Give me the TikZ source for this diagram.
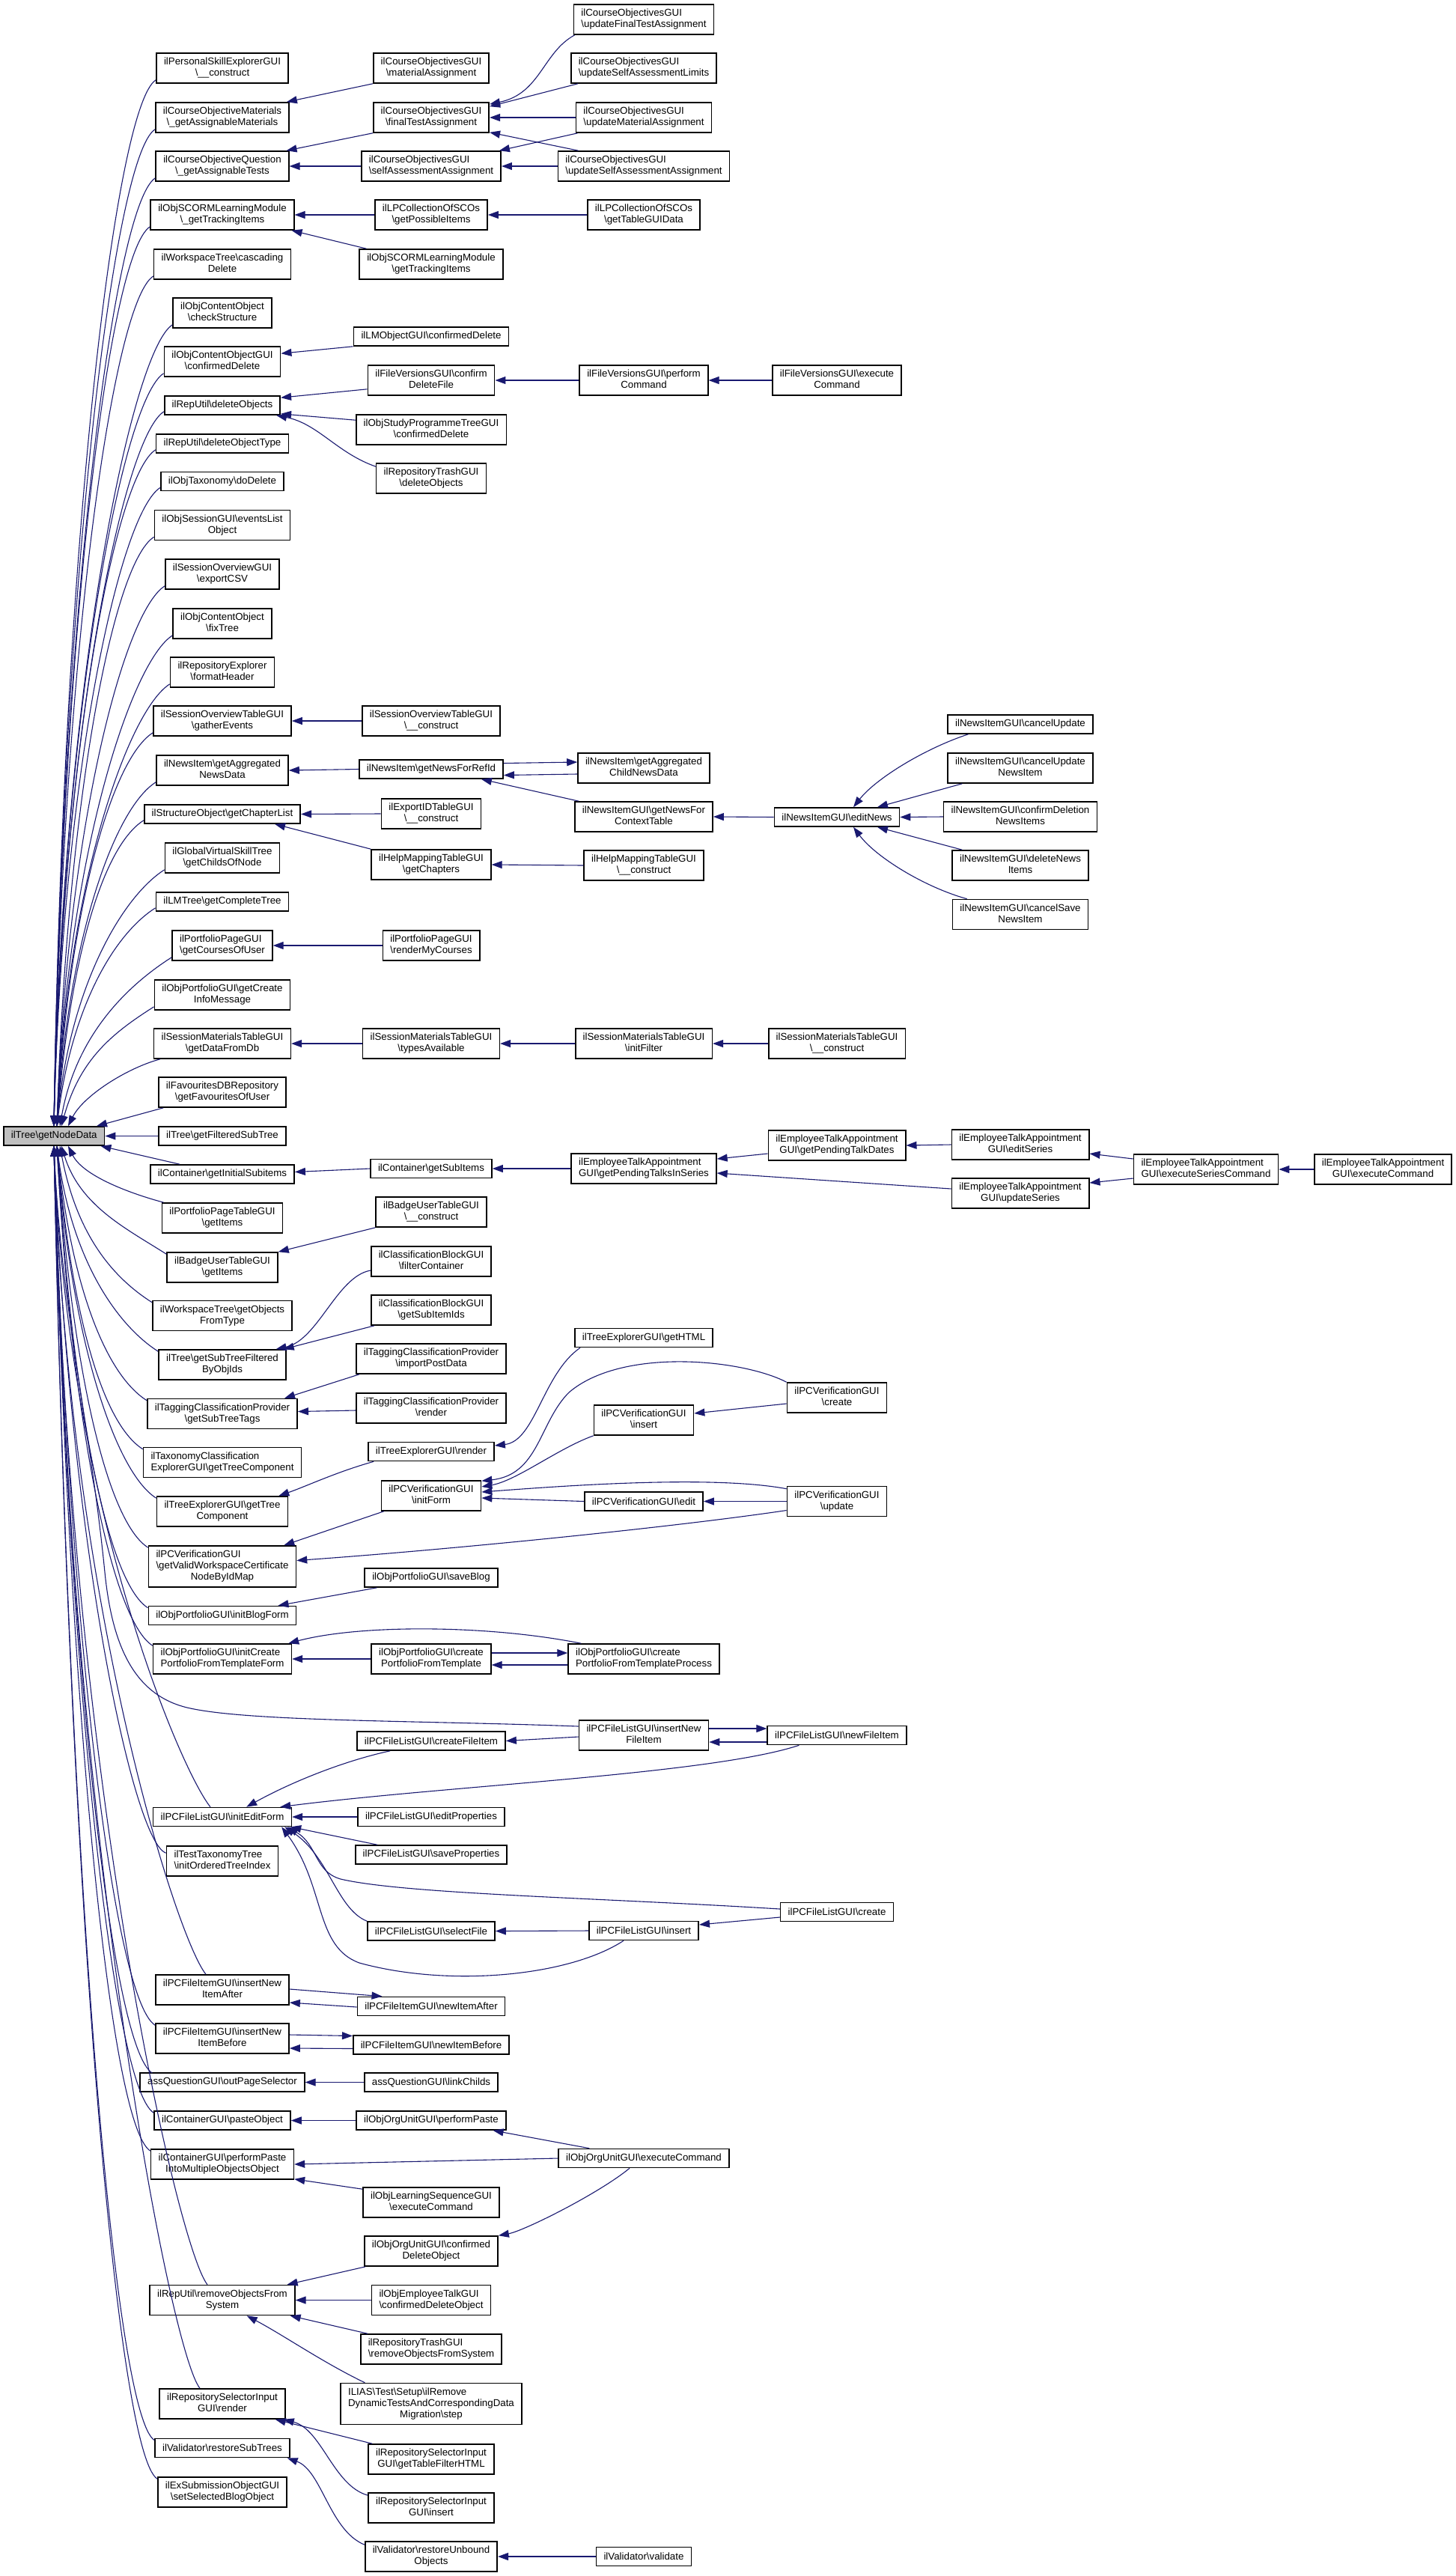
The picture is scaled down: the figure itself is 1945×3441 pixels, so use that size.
\documentclass[tikz,border=0pt]{standalone}
\usepackage{fontspec}
\newfontfamily\dxf{Liberation Sans}
\usetikzlibrary{arrows.meta}
\definecolor{mblue}{RGB}{25,25,112}
\newcommand\BS{\textbackslash}
\newcommand\TwoL[2]{\begin{tabular}{@{}l@{}}#1\\\multicolumn{1}{@{}c@{}}{#2}\end{tabular}}
\newcommand\ThreeL[3]{\begin{tabular}{@{}l@{}}#1\\#2\\\multicolumn{1}{@{}c@{}}{#3}\end{tabular}}
\newcommand\Up[4]{\draw[edg] ([yshift=5pt]#1.south west) .. controls +(-55,-35) and +(#3,#4) .. ([xshift=#2pt]gnd.north west);}
\newcommand\Dn[4]{\draw[edg] ([yshift=-3pt]#1.north west) .. controls +(-55,35) and +(#3,-#4) .. ([xshift=#2pt]gnd.south west);}
\newcommand\DnT[4]{\draw[edg] (#1) .. controls +(-40,50) and +(#3,-#4) .. ([xshift=#2pt]gnd.south west);}
\tikzset{
 fn/.style={draw=black, line width=1.6pt, fill=white, inner xsep=10pt, inner ysep=5pt, minimum height=25pt, font=\dxf\fontsize{13.3}{15}\selectfont},
 root/.style={fn, fill=black!25},
 edg/.style={draw=mblue, line width=1.1pt, -{Triangle[length=14pt,width=10pt]}},
}
\begin{document}
\begin{tikzpicture}[x=1pt,y=1pt]
\useasboundingbox (0,0) rectangle (1945,-3441);
% root
\node[root, anchor=west] (gnd) at (4,-1517.5) {ilTree\BS getNodeData};
% column 1
\node[fn] (n1) at (297,-91) {\TwoL{ilPersonalSkillExplorerGUI}{\BS\_\_construct}};
\node[fn] (n2) at (297,-157) {\TwoL{ilCourseObjectiveMaterials}{\BS\_getAssignableMaterials}};
\node[fn] (n3) at (297,-222) {\TwoL{ilCourseObjectiveQuestion}{\BS\_getAssignableTests}};
\node[fn] (n4) at (297,-287) {\TwoL{ilObjSCORMLearningModule}{\BS\_getTrackingItems}};
\node[fn] (n5) at (297,-353) {\TwoL{ilWorkspaceTree\BS cascading}{Delete}};
\node[fn] (n6) at (297,-418) {\TwoL{ilObjContentObject}{\BS checkStructure}};
\node[fn] (n7) at (297,-483) {\TwoL{ilObjContentObjectGUI}{\BS confirmedDelete}};
\node[fn] (n8) at (297,-541.5) {ilRepUtil\BS deleteObjects};
\node[fn] (n9) at (297,-592.5) {ilRepUtil\BS deleteObjectType};
\node[fn] (n10) at (297,-643) {ilObjTaxonomy\BS doDelete};
\node[fn] (n11) at (297,-701.5) {\TwoL{ilObjSessionGUI\BS eventsList}{Object}};
\node[fn] (n12) at (297,-767) {\TwoL{ilSessionOverviewGUI}{\BS exportCSV}};
\node[fn] (n13) at (297,-833) {\TwoL{ilObjContentObject}{\BS fixTree}};
\node[fn] (n14) at (297,-898) {\TwoL{ilRepositoryExplorer}{\BS formatHeader}};
\node[fn] (n15) at (297,-963) {\TwoL{ilSessionOverviewTableGUI}{\BS gatherEvents}};
\node[fn] (n16) at (297,-1029) {\TwoL{ilNewsItem\BS getAggregated}{NewsData}};
\node[fn] (n17) at (297,-1087.5) {ilStructureObject\BS getChapterList};
\node[fn] (n18) at (297,-1146) {\TwoL{ilGlobalVirtualSkillTree}{\BS getChildsOfNode}};
\node[fn] (n19) at (297,-1204.5) {ilLMTree\BS getCompleteTree};
\node[fn] (n20) at (297,-1263) {\TwoL{ilPortfolioPageGUI}{\BS getCoursesOfUser}};
\node[fn] (n21) at (297,-1329) {\TwoL{ilObjPortfolioGUI\BS getCreate}{InfoMessage}};
\node[fn] (n22) at (297,-1394) {\TwoL{ilSessionMaterialsTableGUI}{\BS getDataFromDb}};
\node[fn] (n23) at (297,-1459) {\TwoL{ilFavouritesDBRepository}{\BS getFavouritesOfUser}};
\node[fn] (n24) at (297,-1517.5) {ilTree\BS getFilteredSubTree};
\node[fn] (n25) at (297,-1568.5) {ilContainer\BS getInitialSubitems};
\node[fn] (n26) at (297,-1627) {\TwoL{ilPortfolioPageTableGUI}{\BS getItems}};
\node[fn] (n27) at (297,-1693) {\TwoL{ilBadgeUserTableGUI}{\BS getItems}};
\node[fn] (n28) at (297,-1757.5) {\TwoL{ilWorkspaceTree\BS getObjects}{FromType}};
\node[fn] (n29) at (297,-1823) {\TwoL{ilTree\BS getSubTreeFiltered}{ByObjIds}};
\node[fn] (n30) at (297,-1888.5) {\TwoL{ilTaggingClassificationProvider}{\BS getSubTreeTags}};
\node[fn] (n31) at (297,-1953.5) {\TwoL{ilTaxonomyClassification}{ExplorerGUI\BS getTreeComponent}};
\node[fn] (n32) at (297,-2019) {\TwoL{ilTreeExplorerGUI\BS getTree}{Component}};
\node[fn] (n33) at (297,-2092.5) {\ThreeL{ilPCVerificationGUI}{\BS getValidWorkspaceCertificate}{NodeByIdMap}};
\node[fn] (n34) at (297,-2158) {ilObjPortfolioGUI\BS initBlogForm};
\node[fn] (n35) at (297,-2216) {\TwoL{ilObjPortfolioGUI\BS initCreate}{PortfolioFromTemplateForm}};
\node[fn] (n36) at (297,-2427) {ilPCFileListGUI\BS initEditForm};
\node[fn] (n37) at (297,-2486) {\TwoL{ilTestTaxonomyTree}{\BS initOrderedTreeIndex}};
\node[fn] (n38) at (297,-2658) {\TwoL{ilPCFileItemGUI\BS insertNew}{ItemAfter}};
\node[fn] (n39) at (297,-2723) {\TwoL{ilPCFileItemGUI\BS insertNew}{ItemBefore}};
\node[fn] (n40) at (297,-2781.5) {assQuestionGUI\BS outPageSelector};
\node[fn] (n41) at (297,-2832.5) {ilContainerGUI\BS pasteObject};
\node[fn] (n42) at (297,-2891) {\TwoL{ilContainerGUI\BS performPaste}{IntoMultipleObjectsObject}};
\node[fn] (n43) at (297,-3072.5) {\TwoL{ilRepUtil\BS removeObjectsFrom}{System}};
\node[fn] (n44) at (297,-3211) {\TwoL{ilRepositorySelectorInput}{GUI\BS render}};
\node[fn] (n45) at (297,-3270) {ilValidator\BS restoreSubTrees};
\node[fn] (n46) at (297,-3329) {\TwoL{ilExSubmissionObjectGUI}{\BS setSelectedBlogObject}};
% column 2
\node[fn] (m1) at (576,-91) {\TwoL{ilCourseObjectivesGUI}{\BS materialAssignment}};
\node[fn] (m2) at (576,-157) {\TwoL{ilCourseObjectivesGUI}{\BS finalTestAssignment}};
\node[fn] (m3) at (576,-222) {\TwoL{ilCourseObjectivesGUI}{\BS selfAssessmentAssignment}};
\node[fn] (m4) at (576,-287) {\TwoL{ilLPCollectionOfSCOs}{\BS getPossibleItems}};
\node[fn] (m5) at (576,-353) {\TwoL{ilObjSCORMLearningModule}{\BS getTrackingItems}};
\node[fn] (m6) at (576,-449.5) {ilLMObjectGUI\BS confirmedDelete};
\node[fn] (m7) at (576,-508) {\TwoL{ilFileVersionsGUI\BS confirm}{DeleteFile}};
\node[fn] (m8) at (576,-574) {\TwoL{ilObjStudyProgrammeTreeGUI}{\BS confirmedDelete}};
\node[fn] (m9) at (576,-639) {\TwoL{ilRepositoryTrashGUI}{\BS deleteObjects}};
\node[fn] (m10) at (576,-963) {\TwoL{ilSessionOverviewTableGUI}{\BS\_\_construct}};
\node[fn] (m11) at (576,-1027.5) {ilNewsItem\BS getNewsForRefId};
\node[fn] (m12) at (576,-1087) {\TwoL{ilExportIDTableGUI}{\BS\_\_construct}};
\node[fn] (m13) at (576,-1155) {\TwoL{ilHelpMappingTableGUI}{\BS getChapters}};
\node[fn] (m14) at (576,-1263) {\TwoL{ilPortfolioPageGUI}{\BS renderMyCourses}};
\node[fn] (m15) at (576,-1394) {\TwoL{ilSessionMaterialsTableGUI}{\BS typesAvailable}};
\node[fn] (m16) at (576,-1561) {ilContainer\BS getSubItems};
\node[fn] (m17) at (576,-1619) {\TwoL{ilBadgeUserTableGUI}{\BS\_\_construct}};
\node[fn] (m18) at (576,-1685) {\TwoL{ilClassificationBlockGUI}{\BS filterContainer}};
\node[fn] (m19) at (576,-1750) {\TwoL{ilClassificationBlockGUI}{\BS getSubItemIds}};
\node[fn] (m20) at (576,-1815) {\TwoL{ilTaggingClassificationProvider}{\BS importPostData}};
\node[fn] (m21) at (576,-1881) {\TwoL{ilTaggingClassificationProvider}{\BS render}};
\node[fn] (m22) at (576,-1939) {ilTreeExplorerGUI\BS render};
\node[fn] (m23) at (576,-1998) {\TwoL{ilPCVerificationGUI}{\BS initForm}};
\node[fn] (m24) at (576,-2107.5) {ilObjPortfolioGUI\BS saveBlog};
\node[fn] (m25) at (576,-2216) {\TwoL{ilObjPortfolioGUI\BS create}{PortfolioFromTemplate}};
\node[fn] (m26) at (576,-2325.5) {ilPCFileListGUI\BS createFileItem};
\node[fn] (m27) at (576,-2427) {ilPCFileListGUI\BS editProperties};
\node[fn] (m28) at (576,-2477.5) {ilPCFileListGUI\BS saveProperties};
\node[fn] (m29) at (576,-2579.5) {ilPCFileListGUI\BS selectFile};
\node[fn] (m30) at (576,-2680) {ilPCFileItemGUI\BS newItemAfter};
\node[fn] (m31) at (576,-2731.5) {ilPCFileItemGUI\BS newItemBefore};
\node[fn] (m32) at (576,-2781.5) {assQuestionGUI\BS linkChilds};
\node[fn] (m33) at (576,-2832.5) {ilObjOrgUnitGUI\BS performPaste};
\node[fn] (m34) at (576,-2942) {\TwoL{ilObjLearningSequenceGUI}{\BS executeCommand}};
\node[fn] (m35) at (576,-3007) {\TwoL{ilObjOrgUnitGUI\BS confirmed}{DeleteObject}};
\node[fn] (m36) at (576,-3072.5) {\TwoL{ilObjEmployeeTalkGUI}{\BS confirmedDeleteObject}};
\node[fn] (m37) at (576,-3138) {\TwoL{ilRepositoryTrashGUI}{\BS removeObjectsFromSystem}};
\node[fn] (m38) at (576,-3211) {\ThreeL{ILIAS\BS Test\BS Setup\BS ilRemove}{DynamicTestsAndCorrespondingData}{Migration\BS step}};
\node[fn] (m39) at (576,-3285) {\TwoL{ilRepositorySelectorInput}{GUI\BS getTableFilterHTML}};
\node[fn] (m40) at (576,-3350) {\TwoL{ilRepositorySelectorInput}{GUI\BS insert}};
\node[fn] (m41) at (576,-3415) {\TwoL{ilValidator\BS restoreUnbound}{Objects}};
% column 3
\node[fn] (p1) at (860,-26) {\TwoL{ilCourseObjectivesGUI}{\BS updateFinalTestAssignment}};
\node[fn] (p2) at (860,-91) {\TwoL{ilCourseObjectivesGUI}{\BS updateSelfAssessmentLimits}};
\node[fn] (p3) at (860,-157) {\TwoL{ilCourseObjectivesGUI}{\BS updateMaterialAssignment}};
\node[fn] (p4) at (860,-222) {\TwoL{ilCourseObjectivesGUI}{\BS updateSelfAssessmentAssignment}};
\node[fn] (p5) at (860,-287) {\TwoL{ilLPCollectionOfSCOs}{\BS getTableGUIData}};
\node[fn] (p6) at (860,-508) {\TwoL{ilFileVersionsGUI\BS perform}{Command}};
\node[fn] (p7) at (860,-1026) {\TwoL{ilNewsItem\BS getAggregated}{ChildNewsData}};
\node[fn] (p8) at (860,-1091) {\TwoL{ilNewsItemGUI\BS getNewsFor}{ContextTable}};
\node[fn] (p9) at (860,-1156) {\TwoL{ilHelpMappingTableGUI}{\BS\_\_construct}};
\node[fn] (p10) at (860,-1394) {\TwoL{ilSessionMaterialsTableGUI}{\BS initFilter}};
\node[fn] (p11) at (860,-1561) {\TwoL{ilEmployeeTalkAppointment}{GUI\BS getPendingTalksInSeries}};
\node[fn] (p12) at (860,-1787) {ilTreeExplorerGUI\BS getHTML};
\node[fn] (p13) at (860,-1897) {\TwoL{ilPCVerificationGUI}{\BS insert}};
\node[fn] (p14) at (860,-2005.5) {ilPCVerificationGUI\BS edit};
\node[fn] (p15) at (860,-2216) {\TwoL{ilObjPortfolioGUI\BS create}{PortfolioFromTemplateProcess}};
\node[fn] (p16) at (860,-2318) {\TwoL{ilPCFileListGUI\BS insertNew}{FileItem}};
\node[fn] (p17) at (860,-2579) {ilPCFileListGUI\BS insert};
\node[fn] (p18) at (860,-2883) {ilObjOrgUnitGUI\BS executeCommand};
\node[fn] (p19) at (860,-3415) {ilValidator\BS validate};
% column 4
\node[fn] (q1) at (1118,-508) {\TwoL{ilFileVersionsGUI\BS execute}{Command}};
\node[fn] (q2) at (1118,-1091.5) {ilNewsItemGUI\BS editNews};
\node[fn] (q3) at (1118,-1394) {\TwoL{ilSessionMaterialsTableGUI}{\BS\_\_construct}};
\node[fn] (q4) at (1118,-1530) {\TwoL{ilEmployeeTalkAppointment}{GUI\BS getPendingTalkDates}};
\node[fn] (q5) at (1118,-1867) {\TwoL{ilPCVerificationGUI}{\BS create}};
\node[fn] (q6) at (1118,-2005.5) {\TwoL{ilPCVerificationGUI}{\BS update}};
\node[fn] (q7) at (1118,-2318) {ilPCFileListGUI\BS newFileItem};
\node[fn] (q8) at (1118,-2554) {ilPCFileListGUI\BS create};
% column 5
\node[fn] (r1) at (1363,-967.5) {ilNewsItemGUI\BS cancelUpdate};
\node[fn] (r2) at (1363,-1026) {\TwoL{ilNewsItemGUI\BS cancelUpdate}{NewsItem}};
\node[fn] (r3) at (1363,-1091) {\TwoL{ilNewsItemGUI\BS confirmDeletion}{NewsItems}};
\node[fn] (r4) at (1363,-1156) {\TwoL{ilNewsItemGUI\BS deleteNews}{Items}};
\node[fn] (r5) at (1363,-1221.5) {\TwoL{ilNewsItemGUI\BS cancelSave}{NewsItem}};
\node[fn] (r6) at (1363,-1529) {\TwoL{ilEmployeeTalkAppointment}{GUI\BS editSeries}};
\node[fn] (r7) at (1363,-1594) {\TwoL{ilEmployeeTalkAppointment}{GUI\BS updateSeries}};
% columns 6, 7
\node[fn] (s1) at (1611,-1562) {\TwoL{ilEmployeeTalkAppointment}{GUI\BS executeSeriesCommand}};
\node[fn] (t1) at (1847.5,-1562) {\TwoL{ilEmployeeTalkAppointment}{GUI\BS executeCommand}};

% ---- edges into the root, from above
\Up{n1}{68}{12}{770}
\Up{n2}{68}{12}{733}
\Up{n3}{68}{12}{697}
\Up{n4}{68}{12}{662}
\Up{n5}{68}{12}{625}
\Up{n6}{68}{12}{590}
\Up{n7}{68}{12}{554}
\Up{n8}{68}{12}{526}
\Up{n9}{68}{12}{498}
\Up{n10}{68}{12}{470}
\Up{n11}{72}{14}{433}
\Up{n12}{72}{14}{398}
\Up{n13}{72}{14}{361}
\Up{n14}{72}{14}{326}
\Up{n15}{72}{16}{290}
\Up{n16}{72}{16}{254}
\Up{n17}{72}{18}{225}
\Up{n18}{72}{18}{190}
\Up{n19}{72}{20}{160}
\Up{n20}{76}{22}{125}
\Up{n21}{78}{25}{90}
\draw[edg] ([xshift=9pt]n22.south west) .. controls +(-45,-12) and +(20,40) .. ([xshift=87pt]gnd.north west);
\draw[edg] ([xshift=7pt]n23.south west) -- ([xshift=125pt]gnd.north west);
\draw[edg] (n24.west) -- (gnd.east);
% ---- edges into the root, from below
\draw[edg] ([xshift=40pt]n25.north west) -- ([xshift=-6pt]gnd.south east);
\draw[edg] ([xshift=3pt]n26.north west) .. controls +(-45,12) and +(20,-40) .. ([xshift=87pt]gnd.south west);
\Dn{n27}{78}{25}{80}
\Dn{n28}{76}{22}{116}
\Dn{n29}{72}{20}{152}
\Dn{n30}{72}{20}{188}
\Dn{n31}{72}{20}{223}
\Dn{n32}{72}{20}{260}
\Dn{n33}{72}{20}{296}
\Dn{n34}{72}{20}{340}
\Dn{n35}{72}{20}{368}
\DnT{[xshift=-16pt]n36.north}{68}{20}{486}
\draw[edg] ([yshift=-10pt]n37.north west) .. controls +(-45,15) and +(20,-520) .. ([xshift=68pt]gnd.south west);
\DnT{[xshift=-22pt]n38.north}{68}{20}{609}
\Dn{n39}{68}{20}{647}
\draw[edg] ([xshift=17pt,yshift=-1pt]n40.north west) .. controls +(-55,35) and +(20,-683) .. ([xshift=68pt]gnd.south west);
\Dn{n41}{68}{20}{711}
\Dn{n42}{68}{20}{739}
\DnT{[xshift=-20pt]n43.north}{68}{20}{838}
\DnT{[xshift=-30pt]n44.north}{68}{20}{914}
\Dn{n45}{68}{20}{952}
\Dn{n46}{68}{20}{980}
\draw[edg] ([yshift=12pt]p16.west) .. controls (560,-2298) and (330,-2300) .. (250,-2281) .. controls (180,-2264) and (150,-2200) .. (140,-2100) .. controls (120,-1900) and (82,-1750) .. ([xshift=68pt]gnd.south west);

% ---- top cluster
\draw[edg] (m1.south west) -- ([xshift=-4pt]n2.north east);
\draw[edg] (m2.south west) -- ([xshift=-4pt]n3.north east);
\draw[edg] (m3.west) -- (n3.east);
\draw[edg] (m4.west) -- (n4.east);
\draw[edg] ([xshift=10pt]m5.north west) -- ([xshift=-4pt]n4.south east);
\draw[edg] (m6.south west) -- ([yshift=-10pt]n7.north east);
\draw[edg] ([yshift=9pt]m7.south west) -- ([yshift=-3pt]n8.north east);
\draw[edg] ([yshift=-8pt]m8.north west) -- ([yshift=2pt]n8.south east);
\draw[edg] ([yshift=-5pt]m9.north west) .. controls (450,-605) and (425,-566) .. ([xshift=-6pt]n8.south east);
\draw[edg] ([xshift=2pt]p1.south west) .. controls (725,-70) and (722,-125) .. ([yshift=-3pt]m2.north east);
\draw[edg] ([xshift=10pt]p2.south west) -- ([yshift=-6pt]m2.north east);
\draw[edg] (p3.west) -- (m2.east);
\draw[edg] ([xshift=3pt]p3.south west) -- ([xshift=-3pt]m3.north east);
\draw[edg] ([xshift=28pt]p4.north west) -- ([yshift=1pt]m2.south east);
\draw[edg] (p4.west) -- (m3.east);
\draw[edg] (p5.west) -- (m4.east);
\draw[edg] (p6.west) -- (m7.east);
\draw[edg] (q1.west) -- (p6.east);

% ---- news cluster
\draw[edg] (m10.west) -- (n15.east);
\draw[edg] (m11.west) -- (n16.east);
\draw[edg] ([yshift=8pt]m11.east) -- ([yshift=8pt]p7.west);
\draw[edg] ([yshift=-8pt]p7.west) -- ([yshift=-8pt]m11.east);
\draw[edg] ([xshift=6pt]p8.north west) -- ([xshift=-30pt]m11.south east);
\draw[edg] (q2.west) -- (p8.east);
\draw[edg] ([xshift=28pt]r1.south west) .. controls (1235,-1000) and (1170,-1040) .. ([xshift=22pt]q2.north);
\draw[edg] ([xshift=20pt]r2.south west) -- ([xshift=54pt]q2.north);
\draw[edg] (r3.west) -- (q2.east);
\draw[edg] ([xshift=14pt]r4.north west) -- ([xshift=54pt]q2.south);
\draw[edg] ([xshift=20pt]r5.north west) .. controls (1235,-1185) and (1170,-1145) .. ([xshift=22pt]q2.south);
\draw[edg] (m12.west) -- (n17.east);
\draw[edg] (m13.north west) -- ([xshift=-35pt]n17.south east);
\draw[edg] (p9.west) -- (m13.east);
\draw[edg] (m14.west) -- (n20.east);
\draw[edg] (m15.west) -- (n22.east);
\draw[edg] (p10.west) -- (m15.east);
\draw[edg] (q3.west) -- (p10.east);

% ---- employee talk cluster
\draw[edg] (m16.west) -- ([yshift=3pt]n25.east);
\draw[edg] (p11.west) -- (m16.east);
\draw[edg] ([yshift=-11pt]q4.west) -- ([yshift=13pt]p11.east);
\draw[edg] (r6.west) -- (q4.east);
\draw[edg] ([yshift=6pt]r7.west) -- ([yshift=-6pt]p11.east);
\draw[edg] ([yshift=14pt]s1.west) -- ([yshift=-12pt]r6.east);
\draw[edg] ([yshift=-12pt]s1.west) -- ([yshift=14pt]r7.east);
\draw[edg] (t1.west) -- (s1.east);

% ---- middle clusters
\draw[edg] (m17.south west) -- (n27.north east);
\draw[edg] ([yshift=-12pt]m18.west) .. controls (450,-1705) and (425,-1790) .. ([xshift=-14pt]n29.north east);
\draw[edg] ([xshift=5pt]m19.south west) -- ([xshift=-4pt]n29.north east);
\draw[edg] ([xshift=5pt]m20.south west) -- ([xshift=-18pt]n30.north east);
\draw[edg] ([yshift=-3pt]m21.west) -- ([yshift=3pt]n30.east);
\draw[edg] ([xshift=8pt]m22.south west) .. controls (450,-1966) and (410,-1985) .. ([xshift=-13pt]n32.north east);
\draw[edg] ([xshift=4pt]m23.south west) -- ([xshift=-17pt]n33.north east);
\draw[edg] ([yshift=-12pt]q6.west) .. controls (900,-2040) and (600,-2070) .. ([yshift=8pt]n33.east);
\draw[edg] ([xshift=17pt]m24.south west) -- ([xshift=-25pt]n34.north east);
\draw[edg] (m25.west) -- (n35.east);
\draw[edg] ([xshift=18pt]p15.north west) .. controls (650,-2170) and (480,-2170) .. ([xshift=-5pt]n35.north east);
\draw[edg] ([yshift=8pt]m25.east) -- ([yshift=8pt]p15.west);
\draw[edg] ([yshift=-8pt]p15.west) -- ([yshift=-8pt]m25.east);

% ---- PC verification cluster
\draw[edg] ([xshift=8pt]p12.south west) .. controls (725,-1835) and (715,-1925) .. ([yshift=8pt]m22.east);
\draw[edg] (q5.north west) .. controls (990,-1815) and (830,-1800) .. (760,-1860) .. controls (720,-1900) and (720,-1970) .. ([yshift=-1pt]m23.north east);
\draw[edg] ([yshift=-8pt]q5.west) -- ([yshift=9pt]p13.east);
\draw[edg] (p13.south west) .. controls (745,-1935) and (690,-1978) .. ([yshift=12pt]m23.east);
\draw[edg] ([yshift=-4pt]q6.north west) .. controls (950,-1970) and (750,-1985) .. ([yshift=5pt]m23.east);
\draw[edg] (p14.west) -- ([yshift=-3pt]m23.east);
\draw[edg] (q6.west) -- (p14.east);

% ---- PC file list cluster
\draw[edg] ([yshift=-2pt]p16.west) -- (m26.east);
\draw[edg] ([yshift=9pt]p16.east) -- ([yshift=9pt]q7.west);
\draw[edg] ([yshift=-9pt]q7.west) -- ([yshift=-9pt]p16.east);
\draw[edg] ([xshift=43pt]q7.south west) .. controls (950,-2370) and (600,-2385) .. ([xshift=-16pt]n36.north east);
\draw[edg] ([xshift=45pt]m26.south west) .. controls (460,-2352) and (390,-2380) .. ([xshift=-61pt]n36.north east);
\draw[edg] (m27.west) -- (n36.east);
\draw[edg] ([xshift=30pt]m28.north west) -- ([xshift=-2pt]n36.south east);
\draw[edg] ([yshift=4pt]q8.west) .. controls (800,-2535) and (540,-2530) .. (455,-2510) .. controls (420,-2500) and (425,-2465) .. ([xshift=-6pt]n36.south east);
\draw[edg] (m29.north west) .. controls (450,-2550) and (440,-2480) .. ([xshift=-10pt]n36.south east);
\draw[edg] ([xshift=47pt]p17.south west) .. controls (760,-2640) and (600,-2655) .. (480,-2622) .. controls (420,-2600) and (435,-2520) .. ([xshift=-14pt]n36.south east);
\draw[edg] (p17.west) -- (m29.east);
\draw[edg] ([yshift=-7pt]q8.west) -- ([yshift=8pt]p17.east);

% ---- file item / paste clusters
\draw[edg] ([yshift=1pt]n38.east) -- ([xshift=34pt]m30.north west);
\draw[edg] ([yshift=-1pt]m30.west) -- ([yshift=-17pt]n38.east);
\draw[edg] ([yshift=5pt]n39.east) -- ([yshift=12pt]m31.west);
\draw[edg] ([yshift=-5pt]m31.west) -- ([yshift=-13pt]n39.east);
\draw[edg] (m32.west) -- (n40.east);
\draw[edg] (m33.west) -- (n41.east);
\draw[edg] ([xshift=42pt]p18.north west) -- ([xshift=-18pt]m33.south east);
\draw[edg] (p18.west) -- (n42.east);
\draw[edg] ([yshift=-3pt]m34.north west) -- ([yshift=1pt]n42.south east);
\draw[edg] ([xshift=-19pt]p18.south) .. controls (800,-2930) and (700,-2980) .. (m35.north east);
\draw[edg] ([xshift=2pt]m35.south west) -- ([xshift=-11pt]n43.north east);
\draw[edg] (m36.west) -- (n43.east);
\draw[edg] ([xshift=10pt]m37.north west) -- ([xshift=-7pt]n43.south east);
\draw[edg] ([xshift=33pt]m38.north west) .. controls (430,-3155) and (380,-3120) .. ([xshift=-65pt]n43.south east);
\draw[edg] ([xshift=6pt]m39.north west) -- ([xshift=-14pt]n44.south east);
\draw[edg] ([yshift=-4pt]m40.north west) .. controls (445,-3320) and (430,-3245) .. ([xshift=-3pt]n44.south east);
\draw[edg] ([yshift=-5pt]m41.north west) .. controls (440,-3380) and (430,-3300) .. ([xshift=-4pt]n45.south east);
\draw[edg] (p19.west) -- (m41.east);
\end{tikzpicture}
\end{document}
